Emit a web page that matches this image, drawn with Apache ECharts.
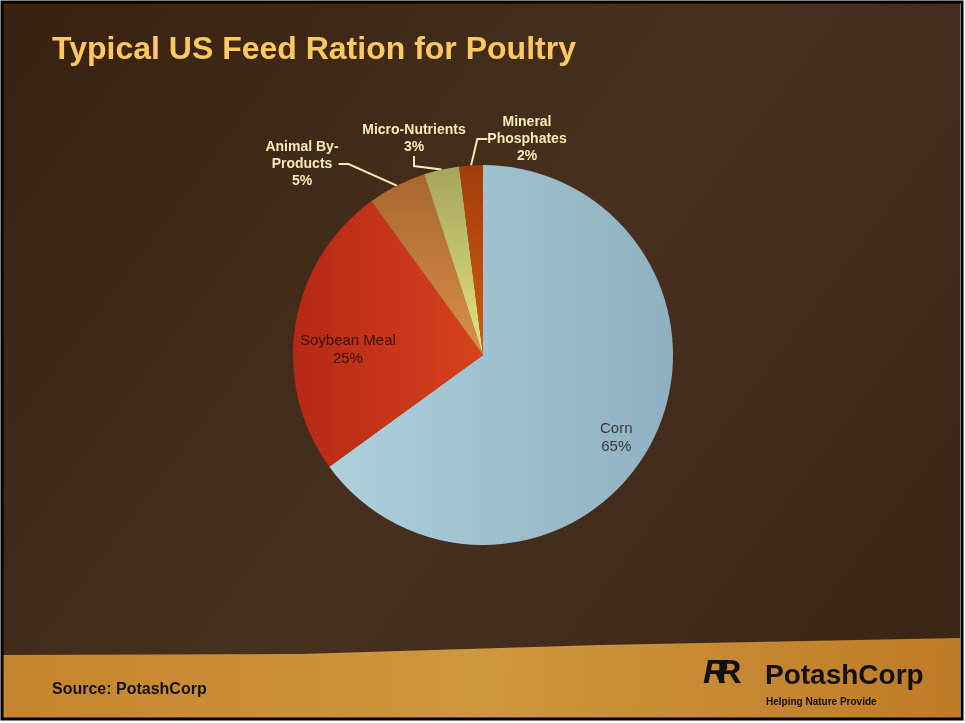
<!DOCTYPE html>
<html>
<head>
<meta charset="utf-8">
<script src="https://cdn.jsdelivr.net/npm/echarts@6/dist/echarts.min.js"></script>
<style>html,body{margin:0;padding:0;background:#fff}#c{width:965px;height:723px}</style>
</head>
<body>
<div id="c"></div>
<script>
var categories = ['Corn', 'Soybean Meal', 'Animal By-\nProducts', 'Micro-Nutrients', 'Mineral\nPhosphates'];
var values = [65, 25, 5, 3, 2];
var pctLabels = ['65%', '25%', '5%', '3%', '2%'];

var sliceColors = [
  ['#aecfdc', '#8fb0c0'],
  ['#b52816', '#d8421e'],
  ['#a8672e', '#dc8e4c'],
  ['#a6a45a', '#e4e482'],
  ['#a23c0c', '#d25c12']
];

function grad(c, vertical) {
  return {type: 'linear', x: 0, y: 0, x2: vertical ? 0 : 1, y2: vertical ? 1 : 0,
    colorStops: [{offset: 0, color: c[0]}, {offset: 1, color: c[1]}]};
}

var chart = echarts.init(document.getElementById('c'), null, {renderer: 'canvas'});

var mainData = categories.map(function (n, i) {
  return {name: n, value: values[i], itemStyle: {color: grad(sliceColors[i], i >= 2)},
    label: {show: i >= 2}, labelLine: {show: i >= 2}};
});
var overlayData = categories.map(function (n, i) {
  return {name: n, value: values[i], label: {show: i < 2, color: i === 1 ? '#3a120a' : '#3a3a3a'}};
});

var outsidePos = {2: [302, 164], 3: [414, 139], 4: [527, 139]};
var insideShift = {0: [-4, 13], 1: [17, 19]};

chart.setOption({
  backgroundColor: '#ffffff',
  animation: false,
  graphic: [
    {type: 'rect', z: -10, shape: {x: 3, y: 3, width: 957, height: 716},
      style: {fill: {type: 'linear', x: 0, y: 0, x2: 1, y2: 1, colorStops: [
        {offset: 0, color: '#38210f'}, {offset: 0.5, color: '#48301f'}, {offset: 1, color: '#3a2414'}]}}},
    {type: 'polygon', z: -9, shape: {points: [[3, 655], [300, 654], [600, 645], [960, 638], [960, 719], [3, 719]]},
      style: {fill: {type: 'linear', x: 0, y: 0, x2: 1, y2: 1, colorStops: [
        {offset: 0, color: '#c6842c'}, {offset: 0.5, color: '#cf9740'}, {offset: 1, color: '#bf7a26'}]}}},
    {type: 'rect', z: -8, shape: {x: 2, y: 2, width: 960, height: 717},
      style: {fill: 'none', stroke: '#000', lineWidth: 3}},
    {type: 'text', left: 52, top: 34, style: {text: 'Typical US Feed Ration for Poultry',
      fill: '#fcc862', font: 'bold 32px "Liberation Sans", Arial, sans-serif'}},
    {type: 'text', left: 52, top: 682, style: {text: 'Source: PotashCorp',
      fill: '#111', font: 'bold 16px "Liberation Sans", Arial, sans-serif'}},
    {type: 'text', left: 703, top: 657, style: {text: 'R',
      fill: '#111', font: 'italic bold 34px "Liberation Sans", Arial, sans-serif'}},
    {type: 'text', left: 717, top: 657, style: {text: 'R',
      fill: '#111', font: 'bold 34px "Liberation Sans", Arial, sans-serif'}},
    {type: 'text', left: 765, top: 662, style: {text: 'PotashCorp',
      fill: '#111', font: 'bold 28px "Liberation Sans Narrow", "Liberation Sans", Arial, sans-serif'}},
    {type: 'text', left: 766, top: 697, style: {text: 'Helping Nature Provide',
      fill: '#111', font: 'bold 10px "Liberation Sans Narrow", "Liberation Sans", Arial, sans-serif'}}
  ],
  series: [
    {
      type: 'pie',
      center: [483, 355],
      radius: [0, 190],
      startAngle: 90,
      clockwise: true,
      silent: true,
      data: mainData,
      label: {
        position: 'outside',
        formatter: function (p) { return p.name + '\n' + pctLabels[p.dataIndex]; },
        color: '#f8eab6',
        fontWeight: 'bold',
        fontSize: 14,
        lineHeight: 17,
        align: 'center',
        fontFamily: '"Liberation Sans", Arial, sans-serif'
      },
      labelLine: {lineStyle: {color: '#f8eab6', width: 2}, length: 12, length2: 10},
      labelLayout: function (params) {
        var p = outsidePos[params.dataIndex];
        if (!p) return {};
        return {x: p[0], y: p[1], align: 'center', verticalAlign: 'middle'};
      }
    },
    {
      type: 'pie',
      center: [483, 355],
      radius: [112, 190],
      startAngle: 90,
      clockwise: true,
      silent: true,
      itemStyle: {color: 'rgba(0,0,0,0)'},
      data: overlayData,
      labelLine: {show: false},
      label: {
        position: 'inside',
        formatter: function (p) { return p.name + '\n' + pctLabels[p.dataIndex]; },
        fontSize: 15,
        lineHeight: 18,
        fontFamily: '"Liberation Sans", Arial, sans-serif'
      },
      labelLayout: function (params) {
        var s = insideShift[params.dataIndex];
        if (!s) return {};
        return {dx: s[0], dy: s[1]};
      }
    }
  ]
});
</script>
</body>
</html>
